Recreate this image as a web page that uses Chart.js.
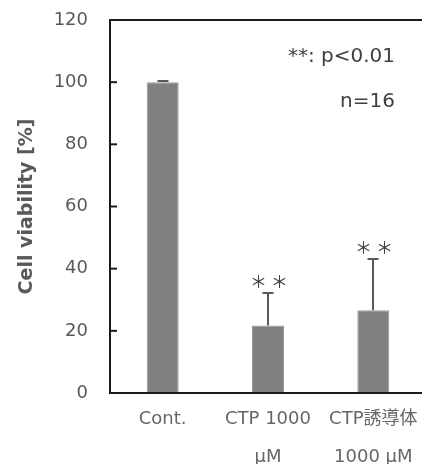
<!DOCTYPE html>
<html>
<head>
<meta charset="utf-8">
<script src="https://cdn.jsdelivr.net/npm/chart.js@4/dist/chart.umd.min.js"></script>
<style>
  html, body { margin: 0; padding: 0; background: #ffffff; overflow: hidden; }
  #wrap { width: 426px; height: 464px; }
</style>
</head>
<body>
<div id="wrap"><canvas id="c" width="426" height="464"></canvas></div>
<script>
const categories = ['Cont.', ['CTP 1000', 'μM'], ['CTP誘導体', '1000 μM']];
const viability = [100, 21.7, 26.6];
const errors = [0.4, 10.5, 16.5];
const significant = [false, true, true];
const yTicks = [0, 20, 40, 60, 80, 100, 120];
const notes = ['**: p<0.01', 'n=16'];

const FONT = "'DejaVu Sans', 'Noto Sans CJK JP', sans-serif";
const CJK = "'Noto Sans CJK JP', sans-serif";
const AXIS = '#231815';

// inside tick marks, frame lines, error bars and stars
const extras = {
    id: 'extras',
    afterDatasetsDraw(chart) {
        const ctx = chart.ctx;
        const area = chart.chartArea;
        const x = chart.scales.x;
        const y = chart.scales.y;
        ctx.save();

        // error bars (upper only)
        viability.forEach((v, i) => {
            const cx = Math.round(x.getPixelForValue(i));
            const yTop = Math.round(y.getPixelForValue(v + errors[i]));
            const yVal = y.getPixelForValue(v);
            ctx.strokeStyle = '#595959';
            ctx.lineWidth = 2;
            ctx.beginPath();
            ctx.moveTo(cx, yVal);
            ctx.lineTo(cx, yTop);
            ctx.moveTo(cx - 5.5, yTop);
            ctx.lineTo(cx + 5.5, yTop);
            ctx.stroke();
            if (significant[i]) {
                ctx.fillStyle = '#404040';
                ctx.font = '17px ' + CJK;
                ctx.textAlign = 'center';
                ctx.textBaseline = 'bottom';
                ctx.fillText('＊ ＊', cx + 1, yTop - 3);
            }
        });

        // frame
        ctx.strokeStyle = AXIS;
        ctx.lineWidth = 2;
        ctx.beginPath();
        ctx.moveTo(area.left, area.bottom);
        ctx.lineTo(area.left, area.top);
        ctx.lineTo(area.right + 2, area.top);
        ctx.moveTo(area.left - 1, area.bottom);
        ctx.lineTo(area.right + 2, area.bottom);
        ctx.stroke();

        // inward tick marks
        yTicks.forEach(t => {
            const py = y.getPixelForValue(t);
            ctx.beginPath();
            ctx.moveTo(area.left, py);
            ctx.lineTo(area.left + 7, py);
            ctx.stroke();
        });

        // notes
        ctx.fillStyle = '#404040';
        ctx.font = '20px ' + FONT;
        ctx.textAlign = 'right';
        ctx.textBaseline = 'middle';
        ctx.fillText(notes[0], 395, 57);
        ctx.fillText(notes[1], 395, 102);
        ctx.restore();
    }
};

new Chart(document.getElementById('c'), {
    type: 'bar',
    data: {
        labels: categories,
        datasets: [{
            data: viability,
            backgroundColor: '#808080',
            borderColor: '#9a9a9a',
            borderWidth: 1,
            categoryPercentage: 1,
            barPercentage: 0.304
        }]
    },
    options: {
        responsive: false,
        animation: false,
        layout: { padding: { top: 20, right: 0, left: 0, bottom: 0 } },
        plugins: {
            legend: { display: false },
            tooltip: { enabled: false }
        },
        scales: {
            x: {
                grid: { display: false, drawTicks: false },
                border: { display: false },
                ticks: {
                    color: '#666666',
                    font: { family: FONT, size: 18, lineHeight: 2.12 },
                    padding: 7,
                    maxRotation: 0,
                    autoSkip: false
                },
                afterFit(scale) {
                    scale.height = 71;
                    scale.paddingLeft = 0;
                    scale.paddingRight = 0;
                }
            },
            y: {
                min: 0,
                max: 120,
                afterBuildTicks(scale) { scale.ticks = yTicks.map(v => ({ value: v })); },
                grid: { display: false, drawTicks: false },
                border: { display: false },
                ticks: {
                    color: '#595959',
                    font: { family: FONT, size: 18 },
                    padding: 22
                },
                title: {
                    display: true,
                    text: 'Cell viability [%]',
                    color: '#595959',
                    font: { family: FONT, size: 19, weight: 'bold' },
                    padding: { top: 16, bottom: 0 }
                },
                afterFit(scale) {
                    scale.width = 110;
                    scale.paddingTop = 0;
                    scale.paddingBottom = 0;
                }
            }
        }
    },
    plugins: [extras]
});
</script>
</body>
</html>
